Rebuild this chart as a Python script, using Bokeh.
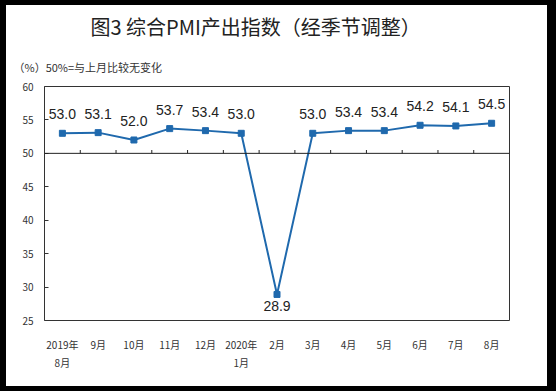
from bokeh.plotting import figure
from bokeh.models import FactorRange, Range1d, ColumnDataSource, LabelSet, Span, FixedTicker, Title
from bokeh.core.properties import value
from bokeh.transform import dodge
from bokeh.embed import file_html
from bokeh.resources import INLINE

# ---- data ----
months = ["2019年\n8月", "9月", "10月", "11月", "12月", "2020年\n1月", "2月",
          "3月", "4月", "5月", "6月", "7月", "8月"]
values = [53.0, 53.1, 52.0, 53.7, 53.4, 53.0, 28.9, 53.0, 53.4, 53.4, 54.2, 54.1, 54.5]
y_ticks = [25, 30, 35, 40, 45, 50, 55, 60]
ref_level = 50
title_text = "图3 综合PMI产出指数（经季节调整）"
note_text = "（%）50%=与上月比较无变化"

LINE = "#1F69AD"
CJK = "Noto Sans CJK SC"

p = figure(x_range=FactorRange(*months), y_range=Range1d(25, 60), title=None,
           width=541, height=381, output_backend="svg", toolbar_location=None,
           min_border_left=38, min_border_right=38, min_border_top=80, min_border_bottom=66)
p.margin = (5, 0, 0, 6)
p.styles = {"box-shadow": "-1px 0 0 5px black, 4px 0 0 5px black"}
p.background_fill_color = "white"
p.border_fill_color = "white"
p.outline_line_color = "#333333"
p.outline_line_width = 1
p.xgrid.grid_line_color = None
p.ygrid.grid_line_color = None

# titles
p.add_layout(Title(text=note_text, align="left", offset=-31, standoff=23,
                   text_font=CJK, text_font_size="11px", text_font_style="normal",
                   text_color="#333333"), "above")
p.add_layout(Title(text=title_text, align="left", offset=46, standoff=9,
                   text_font=CJK, text_font_size="20px", text_font_style="normal",
                   text_color="#222222"), "above")

# y axis
p.yaxis.ticker = FixedTicker(ticks=y_ticks)
p.yaxis.major_tick_in = 4
p.yaxis.major_tick_out = 0
p.yaxis.minor_tick_line_color = None
p.yaxis.axis_line_color = None
p.yaxis.major_tick_line_color = "#333333"
p.yaxis.major_label_standoff = 11
p.yaxis.major_label_text_font = CJK
p.yaxis.major_label_text_font_size = "10px"
p.yaxis.major_label_text_color = "#333333"

# x axis
p.xaxis.major_tick_line_color = None
p.xaxis.axis_line_color = None
p.xaxis.major_label_standoff = 10
p.xaxis.major_label_text_font = CJK
p.xaxis.major_label_text_font_size = "10px"
p.xaxis.major_label_text_color = "#333333"

# 50% reference line with ticks at category boundaries
p.add_layout(Span(location=ref_level, dimension="width", line_color="#222222", line_width=1))
bsrc = ColumnDataSource(dict(x=months[1:], y0=[ref_level] * (len(months) - 1),
                             y1=[ref_level + 0.5] * (len(months) - 1)))
p.segment(x0=dodge("x", -0.5, range=p.x_range), y0="y0",
          x1=dodge("x", -0.5, range=p.x_range), y1="y1",
          source=bsrc, line_color="#222222", line_width=1)

# series
p.line(months, values, line_color=LINE, line_width=2)
p.scatter(months, values, marker="square", size=6, color=LINE)

labels = [f"{v:.1f}" for v in values]
above = [i for i, v in enumerate(values) if v >= ref_level]
below = [i for i, v in enumerate(values) if v < ref_level]
src_a = ColumnDataSource(dict(x=[months[i] for i in above], y=[values[i] for i in above],
                              t=[labels[i] for i in above]))
src_b = ColumnDataSource(dict(x=[months[i] for i in below], y=[values[i] for i in below],
                              t=[labels[i] for i in below]))
p.add_layout(LabelSet(x="x", y="y", text="t", source=src_a, text_align="center",
                      text_baseline="alphabetic", y_offset=14,
                      text_font=value("Liberation Sans"),
                      text_font_size="14px", text_color="#222222"))
p.add_layout(LabelSet(x="x", y="y", text="t", source=src_b, text_align="center",
                      text_baseline="top", y_offset=-7,
                      text_font=value("Liberation Sans"),
                      text_font_size="14px", text_color="#222222"))

open("out.html", "w").write(file_html(p, INLINE))
